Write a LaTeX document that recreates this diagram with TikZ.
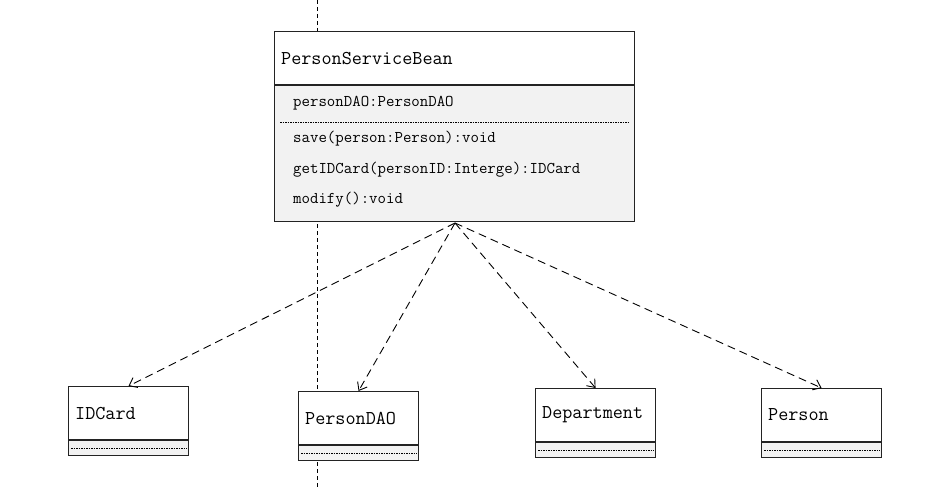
\documentclass[tikz,border=0pt]{standalone}
\usepackage{tikz}
\usetikzlibrary{positioning,arrows.meta}
\definecolor{compgray}{RGB}{242,242,242}
\definecolor{framegray}{RGB}{35,35,35}

\begin{document}
\begin{tikzpicture}[x=1pt,y=-1pt,
    classhead/.style={draw=framegray, line width=1.1pt, fill=white,
      minimum width=120pt, minimum height=53pt, inner sep=0pt},
    classcomp/.style={draw=framegray, line width=1.1pt, fill=compgray,
      minimum width=120pt, minimum height=15pt, inner sep=0pt},
    nametext/.style={font=\ttfamily\fontsize{19.6}{22}\selectfont, inner sep=0pt},
    membertext/.style={font=\ttfamily\fontsize{16.4}{19}\selectfont, inner sep=0pt, anchor=west},
    dotsep/.style={line width=0.6pt, dash pattern=on 1.6pt off 0.9pt},
    depend/.style={line width=0.9pt, dash pattern=on 8pt off 5pt,
      -{Straight Barb[length=7pt,width=11pt]}},
    lifeline/.style={line width=0.8pt, dash pattern=on 4pt off 3pt}]

  % Canvas
  \fill[white] (0,0) rectangle (928,489);
  \useasboundingbox (0,0) rectangle (928,489);

  % Lifeline behind the classes
  \coordinate (lifetop) at (317,0);
  \coordinate (lifebot) at (317,489);
  \draw[lifeline] (lifetop) -- (lifebot);

  % PersonServiceBean
  \node[classhead, minimum width=360pt, anchor=north west] (beanhead) at (274,31) {};
  \node[classcomp, minimum width=360pt, minimum height=136pt, anchor=north west]
    (beanbody) at (beanhead.south west) {};
  \node[nametext, anchor=west] (beantitle) at ([xshift=7pt]beanhead.west) {PersonServiceBean};
  \node[membertext] (attr) at (293,103) {personDAO:PersonDAO};
  \draw[dotsep] (280,122) -- (628,122);
  \node[membertext] (save) at (293,139) {save(person:Person):void};
  \node[membertext] (getcard) at (293,170) {getIDCard(personID:Interge):IDCard};
  \node[membertext] (modify) at (293,200) {modify():void};

  % Used classes
  \foreach \cls/\txt/\x/\y in {idcard/IDCard/68/386, persondao/PersonDAO/298/391,
      department/Department/535/388, person/Person/761/388} {
    \node[classhead, anchor=north west] (\cls) at (\x,\y) {};
    \node[classcomp, anchor=north west] (\cls-comp) at (\cls.south west) {};
    \draw[dotsep] ([xshift=3pt]\cls-comp.west) -- ([xshift=-3pt]\cls-comp.east);
    \node[nametext, anchor=west] (\cls-name) at ([xshift=7pt]\cls.west) {\txt};
  }

  % Dependencies
  \coordinate (hub) at (455,223);
  \foreach \cls in {idcard,persondao,department,person}
    \draw[depend] (hub) -- (\cls.north);
\end{tikzpicture}
\end{document}
